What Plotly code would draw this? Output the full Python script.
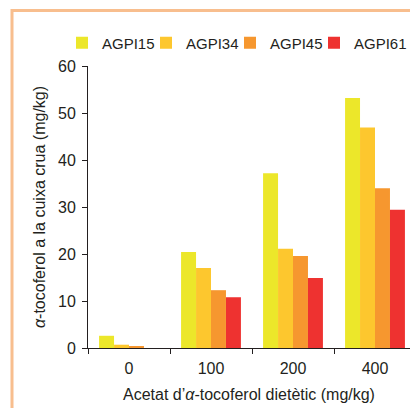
import plotly.graph_objects as go

categories = ["0", "100", "200", "400"]
series_names = ["AGPI15", "AGPI34", "AGPI45", "AGPI61"]
agpi15 = [2.6, 20.4, 37.2, 53.2]
agpi34 = [0.7, 17.0, 21.1, 46.9]
agpi45 = [0.3, 12.3, 19.6, 34.0]
agpi61 = [0.0, 10.8, 14.9, 29.4]
colors = ["#ECE72A", "#FDC72E", "#F6972F", "#EE3230"]
y_ticks = [0, 10, 20, 30, 40, 50, 60]

W, H = 410, 408
ML, MR, MT, MB = 88, 0, 66, 60
PW, PH = W - ML - MR, H - MT - MB

def px_x(p):
    return (p - ML) / PW

def px_y(p):
    return (H - MB - p) / PH

font_family = "Liberation Sans, Arial, sans-serif"
ink = "#231F20"

fig = go.Figure()
legend_ids = ["legend", "legend2", "legend3", "legend4"]
for name, vals, col, lid in zip(series_names, [agpi15, agpi34, agpi45, agpi61], colors, legend_ids):
    fig.add_trace(go.Bar(x=categories, y=vals, name=name, marker=dict(color=col, line=dict(width=0)),
                         legend=lid))

legend_left_px = [62, 146, 230, 314]
legend_common = dict(orientation="h", yanchor="middle", xanchor="left", bgcolor="rgba(0,0,0,0)",
                     font=dict(family=font_family, size=15, color=ink), itemwidth=30)
layout_legends = {}
for lid, lx in zip(legend_ids, legend_left_px):
    layout_legends[lid] = dict(legend_common, x=px_x(lx), y=px_y(43))

fig.update_layout(
    width=W, height=H,
    margin=dict(l=ML, r=MR, t=MT, b=MB, autoexpand=False),
    paper_bgcolor="white", plot_bgcolor="white",
    barmode="group", bargap=0.27, bargroupgap=0,
    font=dict(family=font_family, size=16, color=ink),
    showlegend=True,
    **layout_legends,
    xaxis=dict(type="category", range=[-0.5, -0.5 + PW / 82.0], showline=True, linecolor=ink,
               linewidth=1, ticks="outside", tickson="boundaries", ticklen=5, tickcolor=ink,
               showgrid=False, zeroline=False, ticklabelstandoff=6, tickfont=dict(size=16),
               title=dict(text="Acetat d’<i>α</i>-tocoferol dietètic (mg/kg)", font=dict(size=16), standoff=12)),
    yaxis=dict(range=[0, 60], tickvals=y_ticks, showline=True, linecolor=ink, linewidth=1,
               ticks="outside", ticklen=5, tickcolor=ink, showgrid=False, zeroline=False,
               ticklabelstandoff=3, tickfont=dict(size=16),
               title=dict(text="<i>α</i>-tocoferol a la cuixa crua (mg/kg)", font=dict(size=16), standoff=8)),
    shapes=[dict(type="rect", xref="paper", yref="paper", x0=px_x(12), x1=px_x(425), y0=px_y(425), y1=px_y(10.5),
                 line=dict(color="#F8BE8E", width=3), fillcolor="rgba(0,0,0,0)", layer="below")],
)

fig.write_html("out.html")
